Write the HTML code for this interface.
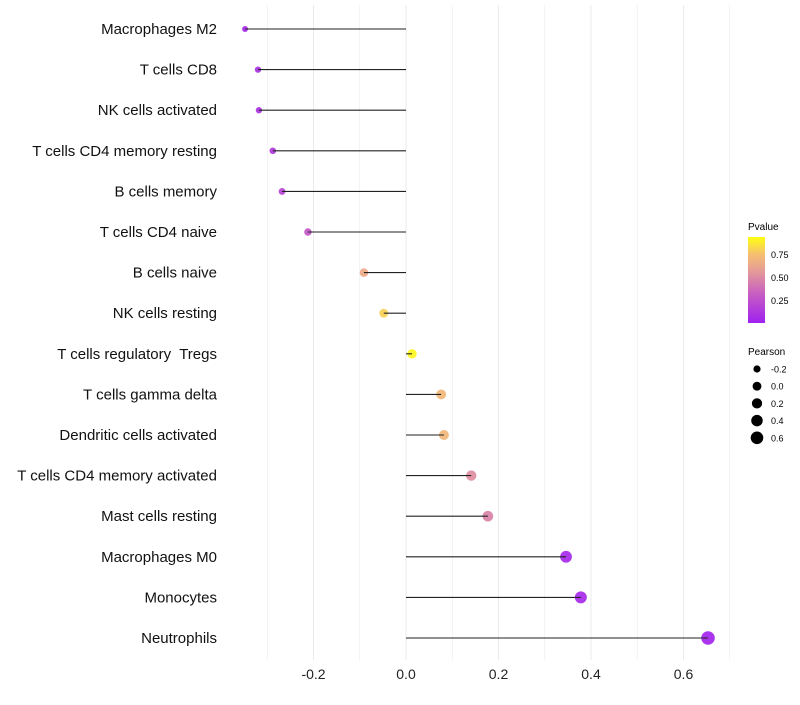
<!DOCTYPE html>
<html><head><meta charset="utf-8"><style>
body{margin:0;background:#fff;font-family:"Liberation Sans",sans-serif}
text{white-space:pre}
</style></head><body>
<svg id="chart" width="800" height="700" xmlns="http://www.w3.org/2000/svg">
<defs><linearGradient id="pg" x1="0" y1="1" x2="0" y2="0">
<stop offset="0" stop-color="#a020f0"/><stop offset="0.35" stop-color="#c860c0"/><stop offset="0.6" stop-color="#e49a98"/><stop offset="0.8" stop-color="#f5c070"/><stop offset="1" stop-color="#ffff10"/></linearGradient></defs>
<g id="grid"></g>
<g id="points"></g>
<g id="marks"></g>
<g id="ylabels"></g>
<g id="xlabels"></g>
<g font-size="10">
<text x="748" y="230" fill="#000">Pvalue</text>
<rect x="748" y="237" width="17" height="86" fill="url(#pg)"/>
<text x="771" y="258" font-size="9">0.75</text><text x="771" y="281" font-size="9">0.50</text><text x="771" y="304" font-size="9">0.25</text>
</g>
<g id="sizeleg" font-size="10">
<text x="748" y="355" fill="#000">Pearson</text>
</g>
</svg>
<script>
const categories=["Macrophages M2","T cells CD8","NK cells activated","T cells CD4 memory resting","B cells memory","T cells CD4 naive","B cells naive","NK cells resting","T cells regulatory  Tregs","T cells gamma delta","Dendritic cells activated","T cells CD4 memory activated","Mast cells resting","Macrophages M0","Monocytes","Neutrophils"];
const pearson=[-0.348,-0.32,-0.318,-0.288,-0.268,-0.212,-0.091,-0.048,0.013,0.076,0.082,0.141,0.177,0.346,0.378,0.653];
const pvalue=[0.05,0.1,0.1,0.15,0.2,0.3,0.68,0.85,0.97,0.75,0.75,0.55,0.5,0.05,0.05,0.02];
const xTicks=[-0.2,0,0.2,0.4,0.6];
const xTickLabels=["-0.2","0.0","0.2","0.4","0.6"];
const sizeLegend=[-0.2,0,0.2,0.4,0.6];
const NS="http://www.w3.org/2000/svg";
const x=v=>406+v*462.5;
const y=i=>29+i*40.6;
const r=v=>Math.sqrt(Math.max(4,21.8+37*v));
function color(p){const st=[[0,[160,32,240]],[0.35,[200,96,192]],[0.6,[228,154,152]],[0.8,[245,192,112]],[1,[255,255,16]]];
for(let k=1;k<st.length;k++){if(p<=st[k][0]){const t=(p-st[k-1][0])/(st[k][0]-st[k-1][0]);const a=st[k-1][1],b=st[k][1];return `rgb(${a.map((c,j)=>Math.round(c+(b[j]-c)*t)).join(',')})`;}}return 'rgb(255,255,16)';}
function mk(tag,attrs,parent){const e=document.createElementNS(NS,tag);for(const k in attrs)e.setAttribute(k,attrs[k]);parent.appendChild(e);return e;}
const grid=document.getElementById('grid');
for(let v=-0.3;v<=0.71;v+=0.1){const l=mk('line',{x1:x(v),x2:x(v),y1:5,y2:660,stroke:'#ebebeb','stroke-width':Math.abs(Math.round(v*10))%2===0?1:0.6},grid);

}
const marks=document.getElementById('marks'),pts=document.getElementById('points'),yl=document.getElementById('ylabels'),xl=document.getElementById('xlabels');
categories.forEach((c,i)=>{
const p=mk('circle',{cx:x(pearson[i]),cy:y(i),r:r(pearson[i]),fill:color(pvalue[i]),'fill-opacity':0.92},pts);


const s=mk('line',{x1:x(0),x2:x(pearson[i]),y1:y(i),y2:y(i),stroke:'#222','stroke-width':1.1},marks);


const t=mk('text',{x:217,y:y(i)+5,'text-anchor':'end','font-size':15,fill:'#111'},yl);t.textContent=c;


});
xTicks.forEach((v,i)=>{const t=mk('text',{x:x(v),y:679,'text-anchor':'middle','font-size':14,fill:'#222'},xl);t.textContent=xTickLabels[i];

});
const sl=document.getElementById('sizeleg');
sizeLegend.forEach((v,i)=>{const cy=369+i*17.2;
const c=mk('circle',{cx:757,cy:cy,r:r(v)*0.95,fill:'#000'},sl);


const t=mk('text',{x:771,y:cy+3.5,'font-size':9},sl);t.textContent=xTickLabels[i];

});
</script>
</body></html>
